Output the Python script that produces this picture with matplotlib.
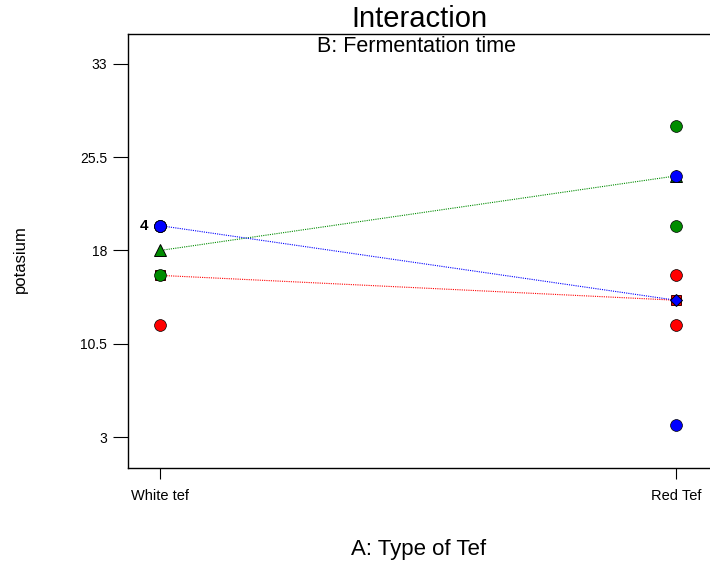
import matplotlib
matplotlib.use("Agg")
import matplotlib.pyplot as plt
import numpy as np

plt.rcParams['font.family'] = ['Liberation Sans', 'DejaVu Sans']

# Factor A levels
tef_types = ["White tef", "Red Tef"]

# Observed potassium values per fermentation-time level (B), per tef type
obs_b1 = [[12, 20], [16, 12]]   # red
obs_b2 = [[16, 20], [28, 20]]   # green
obs_b3 = [[20, 20], [24, 4]]    # blue

y_ticks = [3, 10.5, 18, 25.5, 33]
y_tick_labels = ["3", "10.5", "18", "25.5", "33"]

colors = ["#ff0000", "#008c00", "#0000ff"]
mean_markers = ["s", "^", "D"]

fig = plt.figure(figsize=(7.10, 5.63), dpi=100)
ax = fig.add_axes([0.1803, 0.1687, 0.83, 0.7709])

x = np.arange(len(tef_types))
groups = [obs_b1, obs_b2, obs_b3]

# interaction lines through the level means
for obs, c in zip(groups, colors):
    means = [np.mean(v) for v in obs]
    ax.plot(x, means, linestyle=(0, (1, 1)), color=c, lw=0.8, zorder=2)

# mean markers
sizes = [7.8, 9, 6.2]
for obs, c, m, s in zip(groups, colors, mean_markers, sizes):
    means = [np.mean(v) for v in obs]
    ax.plot(x, means, linestyle="none", marker=m, ms=s, mfc=c,
            mec="#400000" if m == "s" else "black", mew=0.7, zorder=3)

# design points
for obs, c in zip(groups, colors):
    for xi, vals in zip(x, obs):
        ax.plot([xi] * len(vals), vals, linestyle="none", marker="o", ms=8.5,
                mfc=c, mec="black", mew=0.5, zorder=4)

# replicate count next to the stacked points
ax.text(x[0] - 0.022, 20, "4", ha="right", va="center",
        fontsize=11, fontweight="bold")

ax.set_xlim(-0.0617, 1.0597 + 0.02)
ax.set_ylim(0.507, 35.41)
ax.set_xticks(x)
ax.set_xticklabels(tef_types, fontsize=10.5)
ax.set_yticks(y_ticks)
ax.set_yticklabels(y_tick_labels, fontsize=10)
ax.tick_params(axis="y", direction="out", length=11, width=0.8, pad=4)
ax.tick_params(axis="x", direction="out", length=8, width=0.8, pad=7)
ax.spines["right"].set_visible(False)
for sp in ["left", "top", "bottom"]:
    ax.spines[sp].set_linewidth(1.0)

fig.text(0.5901, 1 - 19 / 563, "Interaction", ha="center", va="center",
         fontsize=21)
fig.text(0.5873, 1 - 47 / 563, "B: Fermentation time", ha="center",
         va="center", fontsize=15.5)
fig.text(0.5901, 1 - 550 / 563, "A: Type of Tef", ha="center",
         va="center", fontsize=16)
fig.text(20 / 710, 1 - 259 / 563, "potasium", ha="center", va="center",
         rotation=90, fontsize=12)

fig.savefig("out.png", dpi=100)
